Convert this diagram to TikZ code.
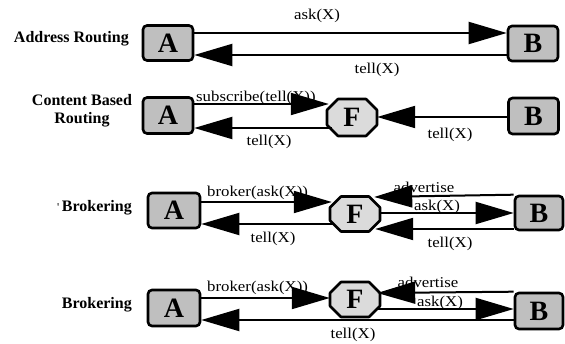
\documentclass[tikz,border=0pt]{standalone}
\usepackage{fontspec}
\setmainfont{Liberation Serif}
\newfontfamily\lblfont[FakeStretch=1.12]{Liberation Serif}
\usetikzlibrary{arrows.meta,calc}
\tikzset{
  boxnode/.style={draw, line width=2.6pt, rounded corners=4pt, fill=black!25, inner sep=0pt,
    minimum width=#1, font=\bfseries\fontsize{28}{28}\selectfont},
  boxnode/.default=50pt,
  octline/.style={draw, line width=2.6pt, line join=round, fill=black!14},
  facnode/.style={inner sep=0pt, minimum width=50pt, minimum height=#1,
    font=\bfseries\fontsize{28}{28}\selectfont},
  facnode/.default=35pt,
  lbl/.style={inner sep=0pt, font=\lblfont\fontsize{15}{15}\selectfont},
  rowlbl/.style={inner sep=0pt, font=\bfseries\fontsize{16}{18}\selectfont, align=center},
  arr/.style={-{Triangle[length=38pt,width=22pt]}, line width=2pt},
}
% octagon outline: centre x, centre y, height (width 50, chamfer 11)
\newcommand\octagonat[3]{%
  \path[octline] (#1-25,#2-#3/2+11) -- (#1-14,#2-#3/2) -- (#1+14,#2-#3/2) -- (#1+25,#2-#3/2+11)
    -- (#1+25,#2+#3/2-11) -- (#1+14,#2+#3/2) -- (#1-14,#2+#3/2) -- (#1-25,#2+#3/2-11) -- cycle;}
\begin{document}
\begin{tikzpicture}[x=1pt,y=-1pt]
\useasboundingbox (0,0) rectangle (565,344);
% row labels
\node[rowlbl, anchor=east] (l1) at (129,39) {Address Routing};
\node[rowlbl] (l2) at (82,111) {Content Based\\Routing};
\node[rowlbl, anchor=east] (l3) at (132,208) {{\mdseries\fontsize{12}{12}\selectfont\textquotesingle}\,Brokering};
\node[rowlbl, anchor=east] (l4) at (132,305) {Brokering};
% boxes
\node[boxnode, minimum height=35pt] (A1) at (168,43) {A};
\node[boxnode, minimum height=35pt] (B1) at (533,43.5) {B};
\node[boxnode, minimum height=36pt] (A2) at (168,115.5) {A};
\octagonat{352}{117.5}{37}
\node[facnode=37pt] (F2) at (352,117.5) {F};
\node[boxnode, minimum height=36pt] (B2) at (533.5,116) {B};
\node[boxnode=52pt, minimum height=35pt] (A3) at (174,210.5) {A};
\octagonat{355}{214}{35}
\node[facnode] (F3) at (355,214) {F};
\node[boxnode=48pt, minimum height=34pt] (B3) at (539,213) {B};
\node[boxnode=52pt, minimum height=36pt] (A4) at (174,308) {A};
\octagonat{355}{299.5}{35}
\node[facnode] (F4) at (355,299.5) {F};
\node[boxnode=48pt, minimum height=36pt] (B4) at (539,311) {B};
% connector labels
\node[lbl] (t1a) at (317,16) {ask(X)};
\node[lbl] (t1b) at (377,70) {tell(X)};
\node[lbl, anchor=west] (t2a) at (196,98) {subscribe(tell(X))};
\node[lbl] (t2b) at (269,142) {tell(X)};
\node[lbl] (t2c) at (450,135) {tell(X)};
\node[lbl, anchor=west] (t3a) at (207,193) {broker(ask(X))};
\node[lbl] (t3b) at (273,239) {tell(X)};
\node[lbl] (t3c) at (424,187) {advertise};
\node[lbl] (t3d) at (437,207) {ask(X)};
\node[lbl] (t3e) at (450,244) {tell(X)};
\node[lbl, anchor=west] (t4a) at (207,288) {broker(ask(X))};
\node[lbl] (t4b) at (428,282) {advertise};
\node[lbl] (t4c) at (440,303) {ask(X)};
\node[lbl] (t4d) at (353,335) {tell(X)};
% row 1
\draw[arr] (A1.east |- 0,33) -- (B1.west |- 0,33);
\draw[arr] (B1.west |- 0,55) -- (A1.east |- 0,55);
% row 2
\draw[arr] (A2.east |- 0,104) -- ($(F2.west |- 0,104)+(2,0)$);
\draw[arr] ($(F2.west |- 0,128)+(5,0)$) -- (A2.east |- 0,128);
\draw[arr] (B2.west |- 0,117) -- (F2.east |- 0,117);
% row 3
\draw[arr] (A3.east |- 0,202) -- ($(F3.west |- 0,202)+(2,0)$);
\draw[arr] ($(F3.west |- 0,224)+(3,0)$) -- (A3.east |- 0,224);
\draw[arr] (B3.north west) -- ($(F3.east |- 0,197)+(-6,0)$);
\draw[arr] (F3.east |- 0,213) -- (B3.west |- 0,213);
\draw[arr] (B3.west |- 0,229) -- ($(F3.east |- 0,229)+(-5,0)$);
% row 4
\draw[arr] (A4.east |- 0,298) -- (F4.west |- 0,298);
\draw[arr] (B4.north west) -- ($(F4.east |- 0,293)+(-3,0)$);
\draw[arr] ($(F4.east |- 0,309)+(-3,0)$) -- (B4.west |- 0,309);
\draw[arr] (B4.west |- 0,320) -- (A4.east |- 0,320);
\end{tikzpicture}
\end{document}
